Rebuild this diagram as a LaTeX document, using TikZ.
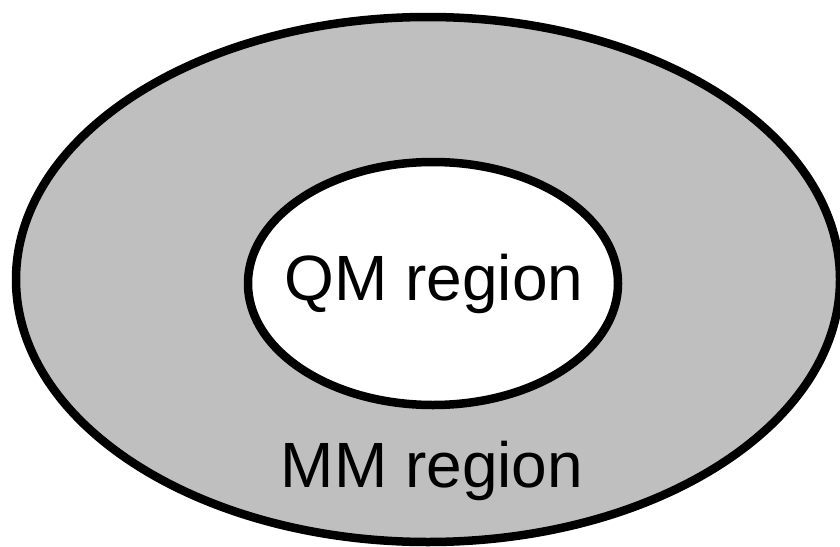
\documentclass[tikz,border=0pt]{standalone}
\usepackage{fontspec}
\setmainfont{Liberation Sans}
\usepackage{xcolor}
\usetikzlibrary{shapes.geometric}

\definecolor{mmgrey}{RGB}{191,191,191}

\tikzset{
    region/.style={draw=black, line width=8.5pt},
    label/.style={font=\fontsize{64}{77}\selectfont, anchor=base, inner sep=0pt},
}

\begin{document}
\begin{tikzpicture}[x=1pt, y=-1pt]
        \useasboundingbox (0,0) rectangle (840,546);

        % outer MM shell and inner QM core
        \draw [region, fill=mmgrey] (428,279.5) ellipse (412 and 262.5);
        \draw [region, fill=white] (433,283.5) ellipse (185 and 121.5);

        \node [label] (qm) at (434,300) {QM region};
        \node [label] (mm) at (432,487) {MM region};
    \end{tikzpicture}
\end{document}
